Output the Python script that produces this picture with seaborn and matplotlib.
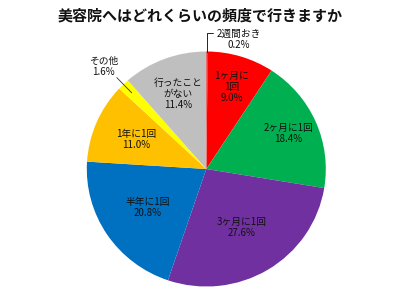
import numpy as np
import matplotlib
matplotlib.use("Agg")
import matplotlib.pyplot as plt
import seaborn as sns

sns.set_theme(style="white")
plt.rcParams['font.family'] = ['Noto Sans CJK JP', 'DejaVu Sans']

title = "美容院へはどれくらいの頻度で行きますか"
categories = ["2週間おき", "1ヶ月に1回", "2ヶ月に1回", "3ヶ月に1回",
              "半年に1回", "1年に1回", "その他", "行ったことがない"]
label_texts = ["2週間おき", "1ヶ月に\n1回", "2ヶ月に1回", "3ヶ月に1回",
               "半年に1回", "1年に1回", "その他", "行ったこと\nがない"]
values = [0.2, 9.0, 18.4, 27.6, 20.8, 11.0, 1.6, 11.4]
colors = ["#FF0000", "#FF0000", "#00B050", "#7030A0",
          "#0070C0", "#FFC000", "#FFFF00", "#BFBFBF"]
# radial position of each label (fraction of radius)
label_r = [None, 0.73, 0.75, 0.58, 0.59, 0.64, 1.21, 0.68]

W, H = 400, 296
fig = plt.figure(figsize=(W / 100, H / 100), dpi=100)
cx, cy, rx, ry = 206.3, 169.0, 119.5, 117.5
ax = fig.add_axes([(cx - rx) / W, (H - cy - ry) / H, 2 * rx / W, 2 * ry / H])
wedges, _ = ax.pie(values, colors=colors, startangle=90, counterclock=False,
                   radius=1.0, wedgeprops=dict(linewidth=0))
ax.set_aspect('auto')
ax.set_xlim(-1, 1)
ax.set_ylim(-1, 1)
ax.axis('off')

fs = 7
for i, w in enumerate(wedges):
    mid = np.deg2rad((w.theta1 + w.theta2) / 2)
    dx, dy = np.cos(mid), np.sin(mid)
    txt = f"{label_texts[i]}\n{values[i]:.1f}%"
    if i == 0:
        # leader line up from the top then to the right
        ax.plot([dx, dx, dx + 0.05], [dy, 1.16, 1.16], color="black", lw=0.6,
                clip_on=False)
        ax.text(0.27, 1.105, txt, ha="center", va="center", fontsize=fs,
                linespacing=1.1, color="#111111", clip_on=False)
    elif label_r[i] > 1:
        r = label_r[i]
        ax.plot([dx * 0.9, dx * 1.08], [dy * 0.9, dy * 1.08], color="#333333",
                lw=0.6, clip_on=False)
        ax.text(dx * r - 0.02, dy * r, txt, ha="center", va="center",
                fontsize=fs, linespacing=1.1, color="#111111", clip_on=False)
    else:
        r = label_r[i]
        ax.text(dx * r, dy * r, txt, ha="center", va="center", fontsize=fs,
                linespacing=1.1, color="#111111")

fig.text(0.5, 1 - 15 / H, title, ha="center", va="center", fontsize=10.8,
         fontweight="bold", color="#111111")

fig.savefig("out.png", dpi=100)
